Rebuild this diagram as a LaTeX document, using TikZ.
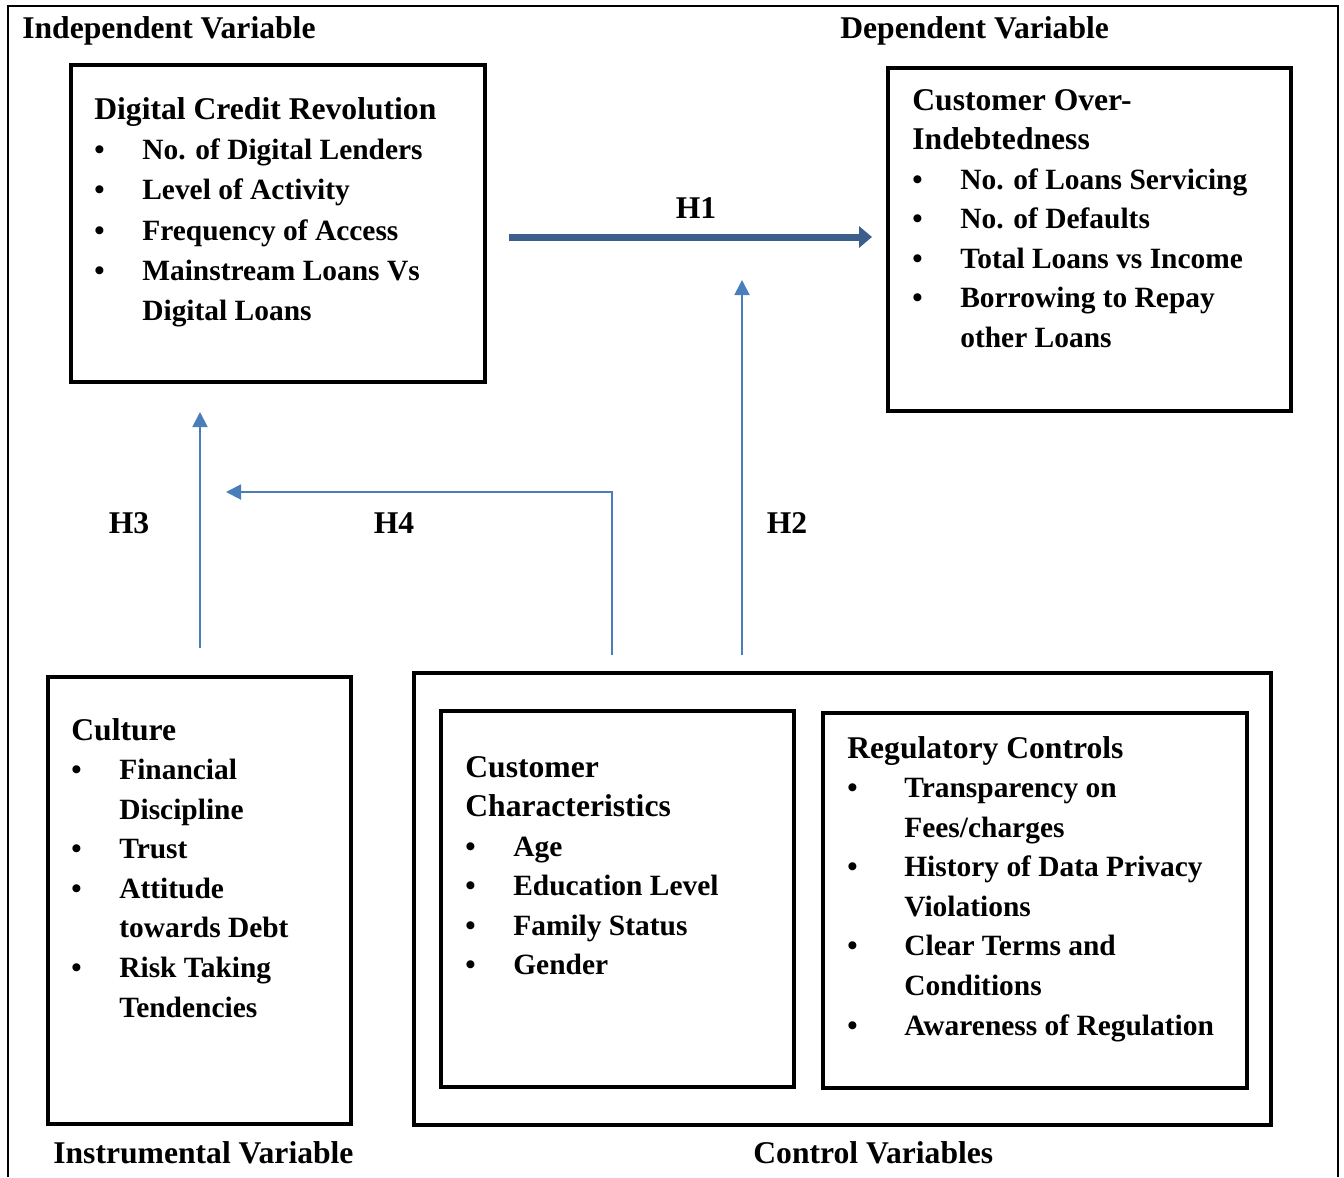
\documentclass[tikz,border=0pt]{standalone}
\usepackage{fontspec}
\setmainfont{Liberation Serif}
\usetikzlibrary{arrows.meta}
\definecolor{darkblue}{RGB}{59,94,140}
\definecolor{lightblue}{RGB}{74,126,187}
\newcommand{\smallfnt}{\fontsize{16.75}{22.5}\selectfont}
\newcommand{\itm}[1]{\makebox[0.96cm][l]{\smallfnt\textbullet}{\smallfnt #1}}
\newcommand{\cont}[1]{\hspace*{0.96cm}{\smallfnt #1}}
\newcommand{\itmw}[1]{\makebox[1.14cm][l]{\smallfnt\textbullet}{\smallfnt #1}}
\newcommand{\contw}[1]{\hspace*{1.14cm}{\smallfnt #1}}
\tikzset{
  box/.style={draw,line width=2.3pt,inner sep=0pt},
  txt/.style={anchor=north west,align=left,inner sep=0pt,font=\fontsize{18}{22.5}\selectfont\bfseries},
  lbl/.style={anchor=base west,inner sep=0pt,font=\fontsize{18}{22.5}\selectfont\bfseries},
  hyp/.style={anchor=base,inner sep=0pt,font=\fontsize{18}{22.5}\selectfont\bfseries},
  thin/.style={draw=lightblue,line width=1.1pt,-{Triangle[length=0.3cm,width=0.3cm]}}
}
\begin{document}
\begin{tikzpicture}[x=0.02cm,y=-0.02cm]
\useasboundingbox (0,0) rectangle (1344,1177);
\draw[line width=1.1pt] (8,1177) -- (8,6) -- (1338,6) -- (1338,1177);

\node[lbl](iv) at (22,38) {Independent Variable};
\node[lbl](dv) at (840,38) {Dependent Variable};
\node[lbl](inv) at (53,1163) {Instrumental Variable};
\node[lbl](cv) at (753,1163) {Control Variables};

\node[box,minimum width=8.28cm,minimum height=6.34cm](dcr) at (278,223.5) {};
\node[box,minimum width=8.06cm,minimum height=6.86cm](coi) at (1089.5,239.5) {};
\node[box,minimum width=6.06cm,minimum height=8.94cm](cul) at (199.5,900.5) {};
\node[box,minimum width=17.14cm,minimum height=9.04cm](ctl) at (842.5,899) {};
\node[box,minimum width=7.06cm,minimum height=7.52cm](cch) at (617.5,899) {};
\node[box,minimum width=8.48cm,minimum height=7.5cm](reg) at (1035,900.5) {};

\node[txt,font=\fontsize{18}{22.9}\selectfont\bfseries](dcrt) at (94,97) {Digital Credit Revolution\\
\itm{No. of Digital Lenders}\\
\itm{Level of Activity}\\
\itm{Frequency of Access}\\
\itm{Mainstream Loans Vs}\\
\cont{Digital Loans}};
\node[txt](coit) at (912,89) {Customer Over-\\
Indebtedness\\
\itm{No. of Loans Servicing}\\
\itm{No. of Defaults}\\
\itm{Total Loans vs Income}\\
\itm{Borrowing to Repay}\\
\cont{other Loans}};
\node[txt](cult) at (71,718) {Culture\\
\itm{Financial}\\
\cont{Discipline}\\
\itm{Trust}\\
\itm{Attitude}\\
\cont{towards Debt}\\
\itm{Risk Taking}\\
\cont{Tendencies}};
\node[txt](ccht) at (465,756) {Customer\\
Characteristics\\
\itm{Age}\\
\itm{Education Level}\\
\itm{Family Status}\\
\itm{Gender}};
\node[txt](regt) at (847,736) {Regulatory Controls\\
\itmw{Transparency on}\\
\contw{Fees/charges}\\
\itmw{History of Data Privacy}\\
\contw{Violations}\\
\itmw{Clear Terms and}\\
\contw{Conditions}\\
\itmw{Awareness of Regulation}};

\coordinate(h1s) at (509,237);
\coordinate(h1e) at (872,237);
\coordinate(h2s) at (742,655);
\coordinate(h2e) at (742,280);
\coordinate(h3s) at (200,648);
\coordinate(h3e) at (200,412);
\coordinate(h4s) at (612,655);
\coordinate(h4e) at (226,492);

\draw[draw=darkblue,line width=0.14cm,-{Triangle[length=0.26cm,width=0.42cm]}] (h1s) -- (h1e);
\draw[thin] (h2s) -- (h2e);
\draw[thin] (h3s) -- (h3e);
\draw[thin] (h4s) |- (h4e);

\node[hyp](h1) at (696,218) {H1};
\node[hyp](h2) at (787,533) {H2};
\node[hyp](h3) at (129,533) {H3};
\node[hyp](h4) at (394,533) {H4};

\end{tikzpicture}
\end{document}
